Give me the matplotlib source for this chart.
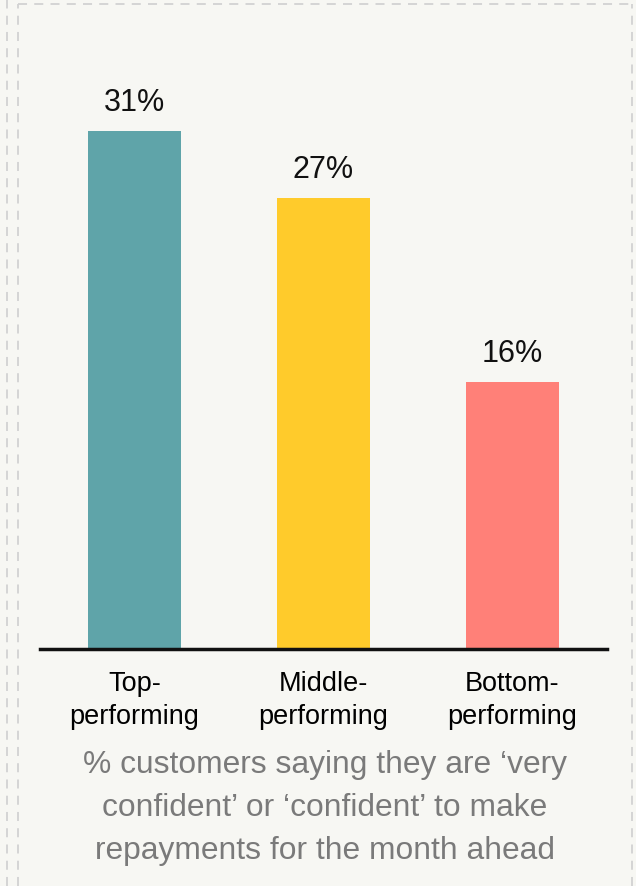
import matplotlib.pyplot as plt
from matplotlib.lines import Line2D

groups = ['Top-\nperforming', 'Middle-\nperforming', 'Bottom-\nperforming']
values = [31, 27, 16]
colors = ['#5fa4a9', '#ffcb2b', '#ff8078']
caption = ("% customers saying they are \u2018very\n"
           "confident\u2019 or \u2018confident\u2019 to make\n"
           "repayments for the month ahead")

plt.rcParams['font.family'] = ['Liberation Sans', 'DejaVu Sans']

W, H = 636, 886
bg = '#f7f7f3'
fig = plt.figure(figsize=(W / 100, H / 100), dpi=100)
fig.patch.set_facecolor(bg)

# axes spans x 40..607 px, baseline at y 649 px
ax = fig.add_axes([40 / W, (H - 649) / H, 567 / W, 609 / H])
ax.set_facecolor(bg)
ax.bar(range(len(values)), values, width=0.49, color=colors)
ax.set_xlim(-0.5, 2.5)
ax.set_ylim(0, 609 / 16.7)
for s in ['top', 'right', 'left']:
    ax.spines[s].set_visible(False)
ax.spines['bottom'].set_linewidth(2.5)
ax.spines['bottom'].set_color('#111111')
ax.set_yticks([])
ax.set_xticks(range(len(values)))
ax.set_xticklabels(groups, fontsize=19.5, linespacing=1.33)
ax.tick_params(axis='x', length=0, pad=16)

for i, v in enumerate(values):
    ax.annotate(f'{v}%', (i, v), xytext=(0, 14.4), textcoords='offset points',
                ha='center', va='baseline', fontsize=22, color='#111111')

fig.text(325 / W, 1 - 808 / H, caption, ha='center', va='center',
         fontsize=22.9, color='#7a7a7a', linespacing=1.57)

# dashed frame
dash = dict(color='#d2d2d2', linewidth=1.3, linestyle=(0, (5, 4)))
fig.add_artist(Line2D([7 / W, 7 / W], [0, 1], transform=fig.transFigure, **dash))
fig.add_artist(Line2D([18 / W, 18 / W], [0, 1 - 4 / H], transform=fig.transFigure, **dash))
fig.add_artist(Line2D([18 / W, 632 / W], [1 - 4 / H, 1 - 4 / H], transform=fig.transFigure, **dash))
fig.add_artist(Line2D([632 / W, 632 / W], [0, 1 - 4 / H], transform=fig.transFigure, **dash))

fig.savefig('out.png', dpi=100, facecolor=bg)
